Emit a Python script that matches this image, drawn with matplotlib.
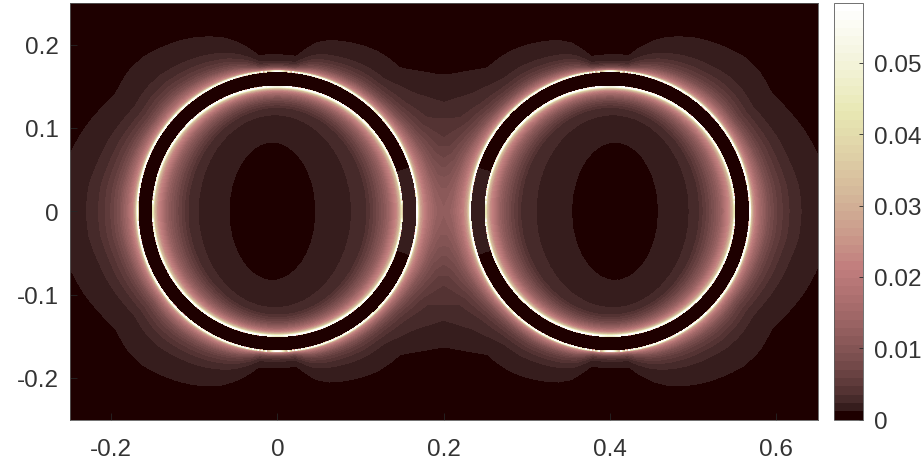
import numpy as np
import matplotlib
matplotlib.use("Agg")
import matplotlib.pyplot as plt
from matplotlib.colors import BoundaryNorm

plt.rcParams['font.family'] = ['Liberation Sans', 'DejaVu Sans']

# Values
ring_centers = [0.0, 0.4]
ring_inner = 0.150
ring_outer = 0.168
gap_value = 0.0019          # brown segment of the dark annulus facing the other ring
gap_half_angle = 18.0

# inside a ring: level value, horizontal / vertical semi-axis of its contour, sideways shift of its centre
inner_value = [0.0,    0.00117, 0.00235, 0.0035, 0.0055, 0.007, 0.009, 0.011, 0.014, 0.019, 0.024, 0.033,  0.045,  0.058]
inner_a =     [0.0,    0.0535,  0.093,   0.108,  0.115,  0.120, 0.125, 0.130, 0.135, 0.140, 0.145, 0.1485, 0.1497, 0.150]
inner_b =     [0.0,    0.085,   0.1166,  0.125,  0.130,  0.133, 0.136, 0.138, 0.141, 0.144, 0.146, 0.148,  0.149,  0.150]
inner_shift = [-0.006, -0.006,  -0.003,  0.0,    0.0,    0.0,   0.0,   0.0,   0.0,   0.0,   0.0,   0.0,    0.0,    0.0]

# outside a ring: value against normalised distance to the faintest contour
outer_s =     [0.0,   0.012, 0.035, 0.069, 0.118, 0.167, 0.216, 0.314, 0.40,   0.47,   0.61,    1.0,     1.5,    2.0]
outer_value = [0.058, 0.035, 0.025, 0.020, 0.015, 0.012, 0.009, 0.006, 0.0045, 0.0035, 0.00235, 0.00117, 0.0005, 0.0]

# radius of the faintest contour against polar angle (0 = towards the other ring)
bound_angle =  [0,    20,    40,   48,    53,     58,    63,    69,    73,    77,    80,    83,
                97,    100,   104.5, 108,   112,    116,   120.5, 126,   131,   137,   144,   150,
                157,   164.6, 172,   180]
bound_radius = [0.268, 0.255, 0.23, 0.226, 0.2265, 0.226, 0.223, 0.218, 0.214, 0.207, 0.197, 0.187,
                0.188, 0.198, 0.211, 0.219, 0.2254, 0.231, 0.236, 0.241, 0.245, 0.245, 0.240, 0.245,
                0.252, 0.258, 0.266, 0.268]

n_levels = 50
z_max = 0.0584
x_limits = (-0.25, 0.65)
y_limits = (-0.25, 0.25)
x_ticks = [-0.2, 0, 0.2, 0.4, 0.6]
x_tick_labels = ['-0.2', '0', '0.2', '0.4', '0.6']
y_ticks = [-0.2, -0.1, 0, 0.1, 0.2]
y_tick_labels = ['-0.2', '-0.1', '0', '0.1', '0.2']
bar_ticks = [0, 0.01, 0.02, 0.03, 0.04, 0.05]
bar_tick_labels = ['0', '0.01', '0.02', '0.03', '0.04', '0.05']

x = np.linspace(x_limits[0], x_limits[1], 1801)
y = np.linspace(y_limits[0], y_limits[1], 1001)
X, Y = np.meshgrid(x, y)

knots = np.arange(len(inner_value))
fine = np.linspace(0, len(inner_value) - 1, 400)
fine_a = np.interp(fine, knots, inner_a)[1:]
fine_b = np.interp(fine, knots, inner_b)[1:]
fine_v = np.interp(fine, knots, inner_value)[1:]
fine_c = np.interp(fine, knots, inner_shift)[1:]


def ring_field(cx, sign):
    dx = sign * (X - cx)
    r = np.hypot(dx, Y)
    theta = np.degrees(np.arctan2(np.abs(Y), dx))
    inner = np.zeros_like(X)
    idx = np.where(r < ring_inner)
    px, py = dx[idx], Y[idx]
    vals = np.full(px.shape, fine_v[-1])
    for a, b, v, c in zip(fine_a[::-1], fine_b[::-1], fine_v[::-1], fine_c[::-1]):
        inside = ((px - c) / a) ** 2 + (py / b) ** 2 < 1
        vals[inside] = v
    inner[idx] = vals
    annulus = (r >= ring_inner) & (r < ring_outer)
    gap = annulus & (theta < gap_half_angle)
    R = np.interp(theta, bound_angle, bound_radius)
    s = (r - ring_outer) / (R - ring_outer)
    outer = np.interp(s, outer_s, outer_value)
    outer[r < ring_outer] = 0
    return inner, outer, r < ring_outer, gap


in1, out1, disc1, gap1 = ring_field(ring_centers[0], 1)
in2, out2, disc2, gap2 = ring_field(ring_centers[1], -1)
Z = out1 + out2
Z[disc1] = in1[disc1]
Z[disc2] = in2[disc2]
Z[gap1] = gap_value
Z[gap2] = gap_value
Z = np.clip(Z, 0, z_max)

levels = np.linspace(0, z_max, n_levels + 1)
cmap = plt.get_cmap('pink', n_levels)
norm = BoundaryNorm(levels, n_levels)

fig = plt.figure(figsize=(9.23, 4.64), dpi=100)
W, H = 923.0, 464.0
ax = fig.add_axes([69.5 / W, 1 - 420.5 / H, (818 - 69.5) / W, (420.5 - 4) / H])
cf = ax.contourf(X, Y, Z, levels=levels, cmap=cmap, norm=norm)
cf.set_edgecolor('face')
cf.set_linewidth(0.25)
ax.set_xlim(x_limits)
ax.set_ylim(y_limits)
ax.set_xticks(x_ticks, x_tick_labels)
ax.set_yticks(y_ticks, y_tick_labels)
text_col = '#333333'
ax.tick_params(direction='in', length=5, width=0.6, color='#262626', labelcolor=text_col,
               labelsize=17.5, pad=8)
ax.tick_params(axis='x', pad=13)
for sp in ax.spines.values():
    sp.set_linewidth(0.6)
    sp.set_color('#5a5a5a')

cax = fig.add_axes([833.5 / W, 1 - 420.5 / H, (863 - 833.5) / W, (420.5 - 4) / H])
cb = fig.colorbar(cf, cax=cax, ticks=bar_ticks)
cb.set_ticklabels(bar_tick_labels)
cb.minorticks_off()
cax.tick_params(direction='in', length=3, width=0.6, color='#262626', labelcolor=text_col,
                labelsize=17.5, pad=8)
cb.outline.set_linewidth(0.6)
cb.outline.set_edgecolor('#5a5a5a')

fig.savefig('out.png', dpi=100)
